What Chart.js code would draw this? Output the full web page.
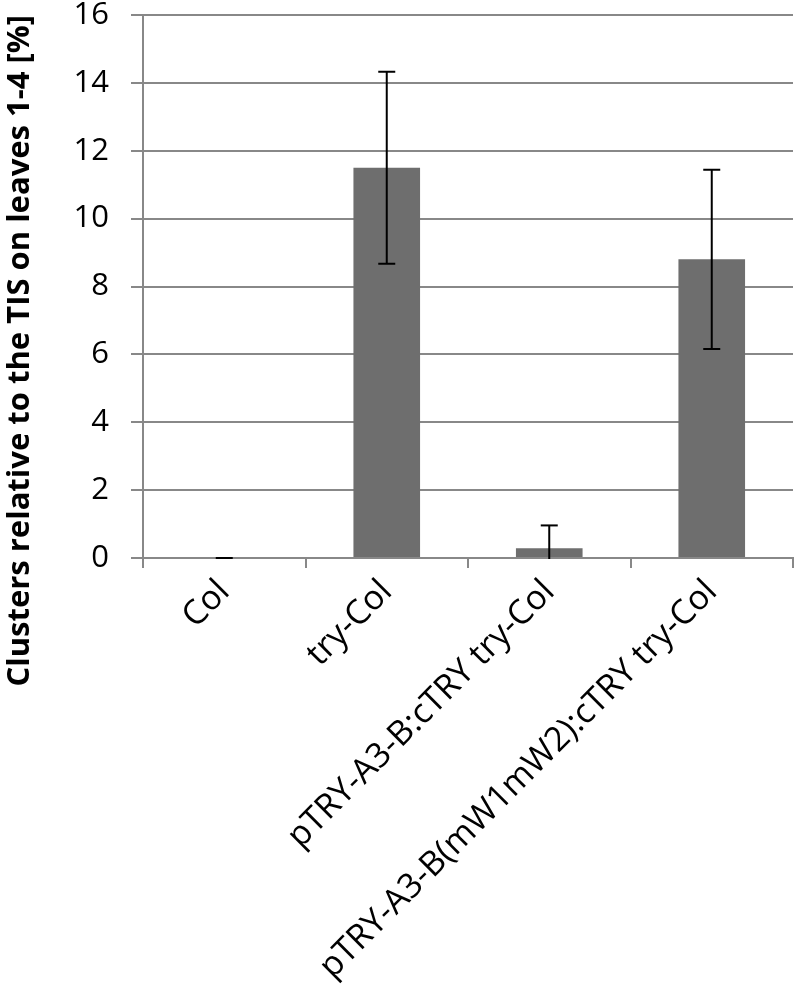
<!DOCTYPE html>
<html>
<head>
<meta charset="utf-8">
<script src="https://cdn.jsdelivr.net/npm/chart.js@4"></script>
<style>
  html, body { margin: 0; padding: 0; background: #ffffff; }
  #wrap { width: 798px; height: 991px; position: relative; }
</style>
</head>
<body>
<div id="wrap"><canvas id="c"></canvas></div>
<script>
const categories = ["Col", "try-Col", "pTRY-A3-B:cTRY try-Col", "pTRY-A3-B(mW1mW2):cTRY try-Col"];
const values = [0, 11.5, 0.29, 8.8];
const errors = [0, 2.83, 0.67, 2.64];
const yTicks = [0, 2, 4, 6, 8, 10, 12, 14, 16];
const yTitle = "Clusters relative to the TIS on leaves 1-4 [%]";

const errorBarPlugin = {
  id: 'errorBars',
  afterDatasetsDraw(chart) {
    const ctx = chart.ctx;
    const meta = chart.getDatasetMeta(0);
    const ys = chart.scales.y;
    const area = chart.chartArea;
    ctx.save();
    ctx.beginPath();
    ctx.rect(area.left, area.top - 2, area.right - area.left, area.bottom - area.top + 3);
    ctx.clip();
    ctx.strokeStyle = '#000000';
    ctx.lineWidth = 2;
    const cap = 8.5;
    meta.data.forEach((bar, i) => {
      const x = bar.x;
      const hiV = values[i] + errors[i];
      const loV = values[i] - errors[i];
      const yHi = ys.getPixelForValue(hiV);
      const yLo = ys.getPixelForValue(loV);
      ctx.beginPath();
      ctx.moveTo(x, yLo);
      ctx.lineTo(x, yHi);
      ctx.stroke();
      ctx.beginPath();
      ctx.moveTo(x - cap, yHi);
      ctx.lineTo(x + cap, yHi);
      if (loV >= ys.min) {
        ctx.moveTo(x - cap, yLo);
        ctx.lineTo(x + cap, yLo);
      }
      ctx.stroke();
    });
    ctx.restore();
  }
};

new Chart(document.getElementById('c'), {
  type: 'bar',
  data: {
    labels: categories,
    datasets: [{
      data: values,
      backgroundColor: '#6e6e6e',
      borderWidth: 0,
      barPercentage: 0.41,
      categoryPercentage: 1.0
    }]
  },
  options: {
    responsive: true,
    maintainAspectRatio: false,
    animation: false,
    devicePixelRatio: 1,
    layout: { padding: { top: 15, right: 5, left: 0, bottom: 0 } },
    plugins: {
      legend: { display: false },
      tooltip: { enabled: false }
    },
    scales: {
      x: {
        type: 'category',
        afterFit(s) { s.height = 433; s.paddingLeft = 0; s.paddingRight = 0; },
        grid: {
          display: true,
          drawOnChartArea: false,
          drawTicks: true,
          tickLength: 10,
          offset: true,
          color: '#888888',
          lineWidth: 2
        },
        border: { display: true, color: '#888888', width: 2 },
        ticks: {
          color: '#000000',
          font: { family: 'Open Sans', size: 34 },
          minRotation: 45,
          maxRotation: 45,
          autoSkip: false,
          padding: 4
        }
      },
      y: {
        min: 0,
        max: 16,
        afterFit(s) { s.width = 143; s.paddingTop = 0; s.paddingBottom = 0; },
        afterBuildTicks(s) { s.ticks = yTicks.map(v => ({ value: v })); },
        grid: {
          color: '#888888',
          lineWidth: 2,
          tickLength: 12,
          drawTicks: true
        },
        border: { display: true, color: '#888888', width: 2 },
        ticks: {
          color: '#000000',
          font: { family: 'Open Sans', size: 31 },
          padding: 22
        },
        title: {
          display: true,
          text: yTitle,
          align: 'end',
          color: '#000000',
          font: { family: 'Open Sans', size: 31, weight: 'bold' },
          padding: { top: 2, bottom: 0 }
        }
      }
    }
  },
  plugins: [errorBarPlugin]
});
</script>
</body>
</html>
